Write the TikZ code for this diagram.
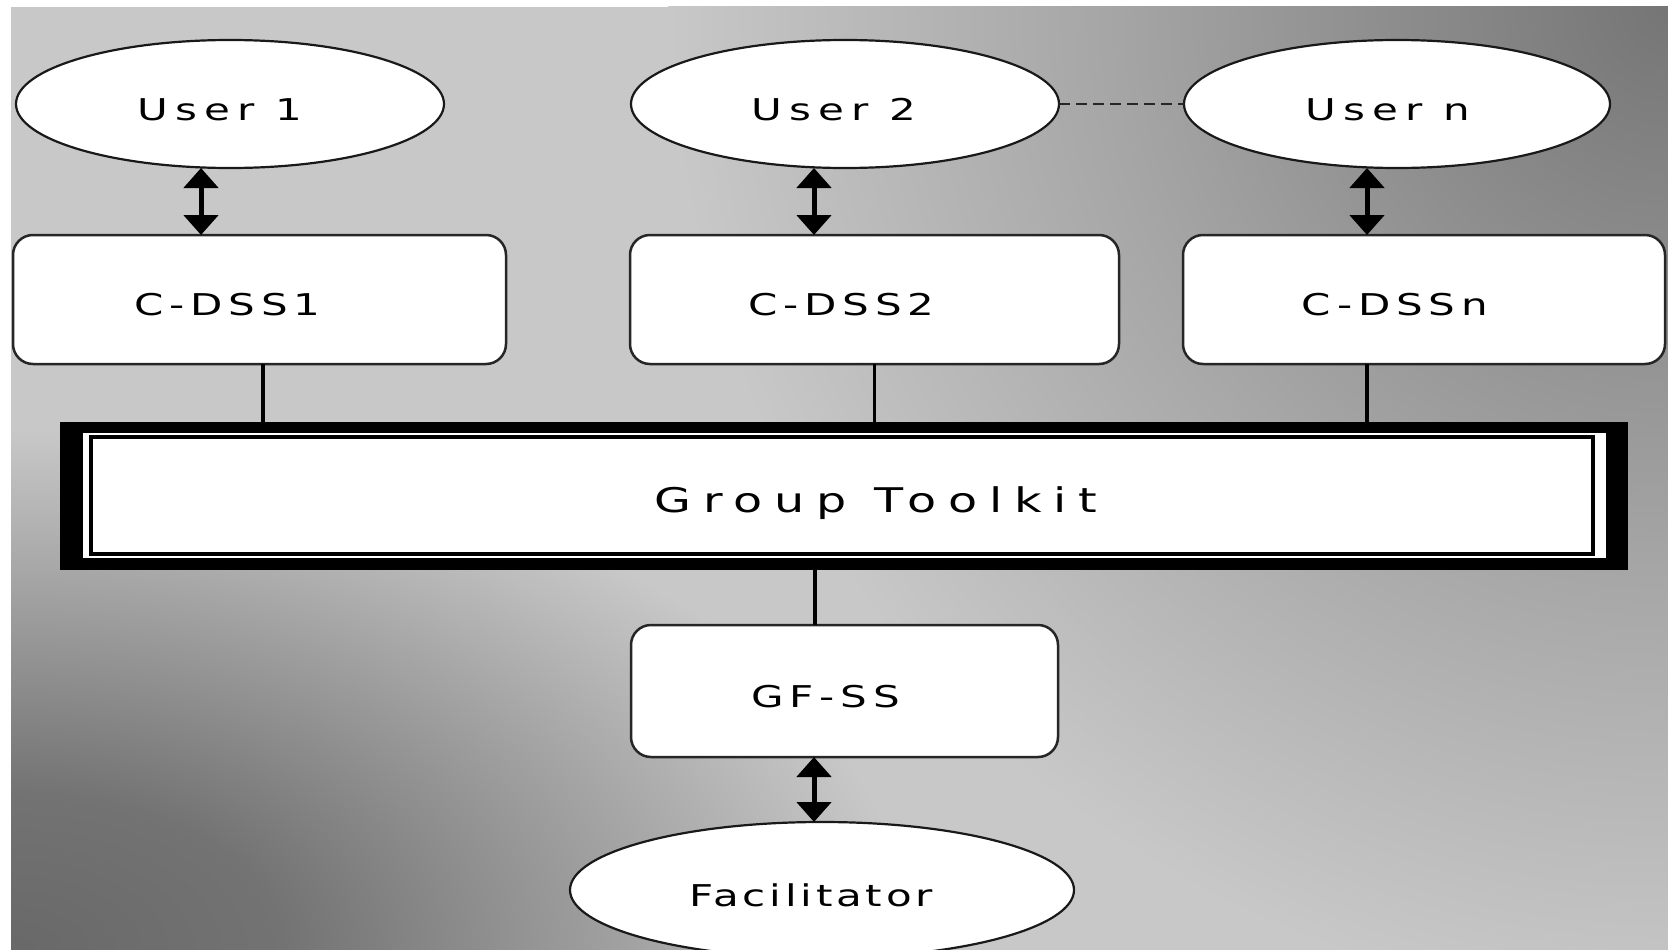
\documentclass[tikz,border=0pt]{standalone}
\usepackage{fontspec}
\setmainfont{DejaVu Sans}
\usepackage{graphicx}
\usetikzlibrary{shapes.geometric,arrows.meta}
\definecolor{bglight}{RGB}{200,200,200}
\pgfdeclareradialshading{vigTR}{\pgfpoint{0bp}{0bp}}{rgb(0bp)=(0.46,0.46,0.46); rgb(14bp)=(0.65,0.65,0.65); rgb(25bp)=(0.784,0.784,0.784); rgb(50bp)=(0.784,0.784,0.784)}
\pgfdeclareradialshading{vigBL}{\pgfpoint{0bp}{0bp}}{rgb(0bp)=(0.41,0.41,0.41); rgb(7.5bp)=(0.45,0.45,0.45); rgb(18bp)=(0.65,0.65,0.65); rgb(25bp)=(0.784,0.784,0.784); rgb(50bp)=(0.784,0.784,0.784)}
\newcommand{\lbl}[3][14]{\raisebox{-5pt}{\scalebox{1.4}[1]{\addfontfeature{LetterSpace=#1}#3}}\hspace*{#2}}
\begin{document}
\begin{tikzpicture}[x=1pt,y=-1pt,
  elli/.style={ellipse, draw=black!90, line width=2.2pt, fill=white, inner sep=0pt, outer sep=0pt,
    font=\fontsize{30}{36}\selectfont, text height=22pt, text depth=0pt},
  rbox/.style={rectangle, rounded corners=20pt, draw=black!85, line width=2.5pt, fill=white,
    inner sep=0pt, outer sep=0pt, font=\fontsize{30}{36}\selectfont, text height=22pt, text depth=0pt},
  link/.style={line width=3.5pt, black},
  biarrow/.style={line width=5pt, black, {Triangle[width=34pt,length=20pt]}-{Triangle[width=34pt,length=20pt]}},
  dashlink/.style={line width=2.2pt, black!85, dash pattern=on 11pt off 6pt}]
% background
\fill[white] (0,0) rectangle (1668,950);
\begin{scope}
  \clip (11,7) rectangle (1668,950);
  \fill[bglight] (11,7) rectangle (1668,950);
  \shade[shading=vigTR] (1668,7) circle (1000pt);
  \shade[shading=vigBL] (11,950) ellipse (900pt and 520pt);
\end{scope}
\useasboundingbox (0,0) rectangle (1668,950);
% users
\node[elli, minimum width=428pt, minimum height=128pt] (u1) at (230,104) {\lbl[17]{20pt}{User 1}};
\node[elli, minimum width=428pt, minimum height=128pt] (u2) at (845,104) {\lbl[17]{22pt}{User 2}};
\node[elli, minimum width=426pt, minimum height=128pt] (un) at (1397,104) {\lbl[17]{18pt}{User n}};
% C-DSS boxes
\node[rbox, minimum width=493pt, minimum height=129pt] (c1) at (259.5,299.5) {\lbl{64pt}{C-DSS1}};
\node[rbox, minimum width=489pt, minimum height=129pt] (c2) at (874.5,299.5) {\lbl{66pt}{C-DSS2}};
\node[rbox, minimum width=482pt, minimum height=129pt] (cn) at (1424,299.5) {\lbl{58pt}{C-DSSn}};
% group toolkit
\node[rectangle, fill=black, inner sep=0pt, outer sep=0pt, minimum width=1568pt, minimum height=148pt] (gtframe) at (844,496) {};
\fill[white] ([xshift=23pt,yshift=12pt]gtframe.south west) rectangle ([xshift=-22pt,yshift=-11pt]gtframe.north east);
\node[rectangle, draw=black, line width=4pt, fill=white, inner sep=0pt, outer sep=0pt,
  minimum width=1502pt, minimum height=116.5pt, font=\fontsize{34}{40}\selectfont,
  text height=25pt, text depth=0pt] (gt) at (842,495.25) {\lbl[25]{-68pt}{Group Toolkit}};
% GF-SS and facilitator
\node[rbox, minimum width=427pt, minimum height=132pt] (gf) at (844.5,691) {\lbl{38pt}{GF-SS}};
\node[elli, minimum width=504pt, minimum height=136pt] (fac) at (822,890) {\lbl[9]{22pt}{Facilitator}};
% connectors
\draw[dashlink] (u2.east) -- (un.west);
\draw[biarrow] ([xshift=-29pt]u1.south) -- ([xshift=-58.5pt]c1.north);
\draw[biarrow] ([xshift=-31pt]u2.south) -- ([xshift=-60.5pt]c2.north);
\draw[biarrow] ([xshift=-30pt]un.south) -- ([xshift=-57pt]cn.north);
\draw[link] ([xshift=3.5pt]c1.south) -- ([xshift=3.5pt]c1.south |- gtframe.north);
\draw[link] (c2.south) -- (c2.south |- gtframe.north);
\draw[link] ([xshift=-57pt]cn.south) -- ([xshift=-57pt]cn.south |- gtframe.north);
\draw[link] ([xshift=-29.5pt]gf.north |- gtframe.south) -- ([xshift=-29.5pt]gf.north);
\draw[biarrow] ([xshift=-30.5pt]gf.south) -- ([xshift=-8pt]fac.north);
\end{tikzpicture}
\end{document}
